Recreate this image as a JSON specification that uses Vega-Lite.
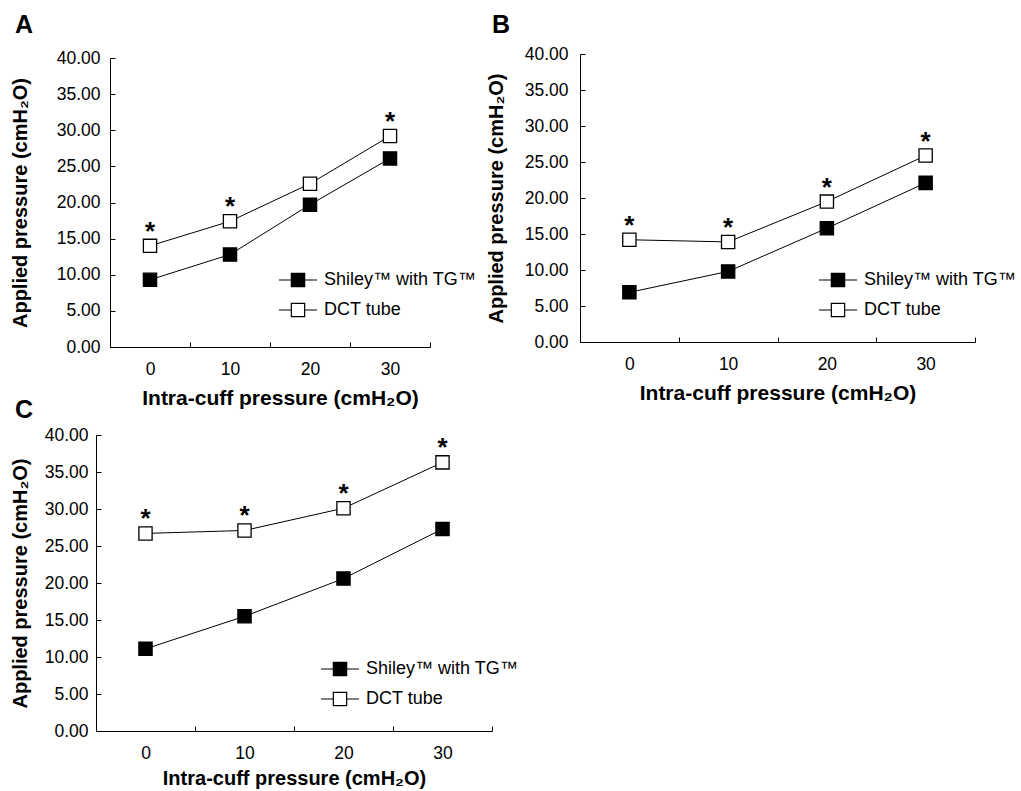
{
  "$schema": "https://vega.github.io/schema/vega-lite/v6.json",
  "background": "white",
  "padding": {"left": 10, "top": 13, "right": 2, "bottom": 2},
  "config": {
    "font": "Liberation Sans",
    "view": {"stroke": null},
    "axis": {
      "grid": false,
      "domainColor": "black",
      "domainWidth": 1,
      "tickColor": "black",
      "tickWidth": 1,
      "tickSize": -5,
      "labelColor": "black",
      "labelFont": "Liberation Sans",
      "labelFontSize": 17.5,
      "titleColor": "black",
      "titleFont": "Liberation Sans",
      "titleFontSize": 20,
      "titleFontWeight": "bold"
    },
    "axisX": {"titleFontSize": 21},
    "legend": {
      "labelFont": "Liberation Sans",
      "labelFontSize": 18,
      "labelColor": "black"
    },
    "title": {"font": "Liberation Sans", "fontSize": 25, "fontWeight": "bold", "color": "black", "anchor": "start", "frame": "group"}
  },
  "data": {
    "values": [
      {"panel": "A", "x": "0", "tube": "Shiley™ with TG™", "y": 9.3, "sig": ""},
      {"panel": "A", "x": "10", "tube": "Shiley™ with TG™", "y": 12.8, "sig": ""},
      {"panel": "A", "x": "20", "tube": "Shiley™ with TG™", "y": 19.7, "sig": ""},
      {"panel": "A", "x": "30", "tube": "Shiley™ with TG™", "y": 26.1, "sig": ""},
      {"panel": "A", "x": "0", "tube": "DCT tube", "y": 14.0, "sig": "*"},
      {"panel": "A", "x": "10", "tube": "DCT tube", "y": 17.4, "sig": "*"},
      {"panel": "A", "x": "20", "tube": "DCT tube", "y": 22.6, "sig": ""},
      {"panel": "A", "x": "30", "tube": "DCT tube", "y": 29.2, "sig": "*"},
      {"panel": "B", "x": "0", "tube": "Shiley™ with TG™", "y": 6.9, "sig": ""},
      {"panel": "B", "x": "10", "tube": "Shiley™ with TG™", "y": 9.8, "sig": ""},
      {"panel": "B", "x": "20", "tube": "Shiley™ with TG™", "y": 15.8, "sig": ""},
      {"panel": "B", "x": "30", "tube": "Shiley™ with TG™", "y": 22.1, "sig": ""},
      {"panel": "B", "x": "0", "tube": "DCT tube", "y": 14.2, "sig": "*"},
      {"panel": "B", "x": "10", "tube": "DCT tube", "y": 13.9, "sig": "*"},
      {"panel": "B", "x": "20", "tube": "DCT tube", "y": 19.5, "sig": "*"},
      {"panel": "B", "x": "30", "tube": "DCT tube", "y": 25.9, "sig": "*"},
      {"panel": "C", "x": "0", "tube": "Shiley™ with TG™", "y": 11.1, "sig": ""},
      {"panel": "C", "x": "10", "tube": "Shiley™ with TG™", "y": 15.5, "sig": ""},
      {"panel": "C", "x": "20", "tube": "Shiley™ with TG™", "y": 20.6, "sig": ""},
      {"panel": "C", "x": "30", "tube": "Shiley™ with TG™", "y": 27.3, "sig": ""},
      {"panel": "C", "x": "0", "tube": "DCT tube", "y": 26.7, "sig": "*"},
      {"panel": "C", "x": "10", "tube": "DCT tube", "y": 27.1, "sig": "*"},
      {"panel": "C", "x": "20", "tube": "DCT tube", "y": 30.1, "sig": "*"},
      {"panel": "C", "x": "30", "tube": "DCT tube", "y": 36.3, "sig": "*"}
    ]
  },
  "columns": 2,
  "align": "none",
  "spacing": {"row": -11, "column": -33},
  "concat": [
    {
      "width": 334, "height": 293,
      "title": {"text": "A", "dx": -81, "offset": 11},
      "transform": [{"filter": "datum.panel === 'A'"}],
      "encoding": {
        "x": {"field": "x", "type": "ordinal", "sort": ["0", "10", "20", "30"],
              "scale": {"type": "band", "paddingInner": 0, "paddingOuter": 0, "range": [14, 334]},
              "axis": {"title": "Intra-cuff pressure (cmH₂O)", "labelAngle": 0, "tickBand": "extent", "labelPadding": 18, "titlePadding": 10, "titleX": 184}},
        "y": {"field": "y", "type": "quantitative", "scale": {"domain": [0, 40], "nice": false, "range": [293, 4]},
              "axis": {"title": "Applied pressure (cmH₂O)", "values": [0, 5, 10, 15, 20, 25, 30, 35, 40], "format": ".2f", "offset": -14, "labelPadding": 15, "titlePadding": 26}}
      },
      "layer": [
        {"mark": {"type": "line", "color": "black", "strokeWidth": 1}, "encoding": {"detail": {"field": "tube"}}},
        {"mark": {"type": "point", "shape": "square", "size": 175, "filled": true, "stroke": "black", "strokeWidth": 1.3, "opacity": 1},
         "encoding": {"fill": {"field": "tube", "type": "nominal", "scale": {"domain": ["Shiley™ with TG™", "DCT tube"], "range": ["black", "white"]},
           "legend": {"title": null, "orient": "none", "legendX": 182, "legendY": 206, "padding": 0,
             "symbolType": "M-1,0H-0.35M0.35,0H1M-0.35,-0.35H0.35V0.35H-0.35Z", "symbolSize": 1444,
             "symbolStrokeColor": "black", "symbolStrokeWidth": 1.2, "symbolOpacity": 1, "labelOffset": 6, "rowPadding": -4}}}},
        {"transform": [{"filter": "datum.sig === '*'"}], "mark": {"type": "text", "dy": -6, "baseline": "alphabetic", "fontSize": 26, "fontWeight": "bold", "color": "black"}, "encoding": {"text": {"field": "sig"}}}
      ]
    },
    {
      "width": 395, "height": 288,
      "title": {"text": "B", "dx": -88, "offset": 7},
      "transform": [{"filter": "datum.panel === 'B'"}],
      "encoding": {
        "x": {"field": "x", "type": "ordinal", "sort": ["0", "10", "20", "30"],
              "scale": {"type": "band", "paddingInner": 0, "paddingOuter": 0},
              "axis": {"title": "Intra-cuff pressure (cmH₂O)", "labelAngle": 0, "tickBand": "extent", "labelPadding": 18, "titlePadding": 10}},
        "y": {"field": "y", "type": "quantitative", "scale": {"domain": [0, 40], "nice": false},
              "axis": {"title": "Applied pressure (cmH₂O)", "values": [0, 5, 10, 15, 20, 25, 30, 35, 40], "format": ".2f", "labelPadding": 17, "titlePadding": 18}}
      },
      "layer": [
        {"mark": {"type": "line", "color": "black", "strokeWidth": 1}, "encoding": {"detail": {"field": "tube"}}},
        {"mark": {"type": "point", "shape": "square", "size": 175, "filled": true, "stroke": "black", "strokeWidth": 1.3, "opacity": 1},
         "encoding": {"fill": {"field": "tube", "type": "nominal", "scale": {"domain": ["Shiley™ with TG™", "DCT tube"], "range": ["black", "white"]},
           "legend": {"title": null, "orient": "none", "legendX": 238, "legendY": 206, "padding": 0,
             "symbolType": "M-1,0H-0.35M0.35,0H1M-0.35,-0.35H0.35V0.35H-0.35Z", "symbolSize": 1444,
             "symbolStrokeColor": "black", "symbolStrokeWidth": 1.2, "symbolOpacity": 1, "labelOffset": 6, "rowPadding": -4}}}},
        {"transform": [{"filter": "datum.sig === '*'"}], "mark": {"type": "text", "dy": -6, "baseline": "alphabetic", "fontSize": 26, "fontWeight": "bold", "color": "black"}, "encoding": {"text": {"field": "sig"}}}
      ]
    },
    {
      "width": 396, "height": 296,
      "title": {"text": "C", "dx": -81, "offset": 3},
      "transform": [{"filter": "datum.panel === 'C'"}],
      "encoding": {
        "x": {"field": "x", "type": "ordinal", "sort": ["0", "10", "20", "30"],
              "scale": {"type": "band", "paddingInner": 0, "paddingOuter": 0},
              "axis": {"title": "Intra-cuff pressure (cmH₂O)", "titleFontSize": 20, "labelAngle": 0, "tickBand": "extent", "labelPadding": 18, "titlePadding": 7}},
        "y": {"field": "y", "type": "quantitative", "scale": {"domain": [0, 40], "nice": false},
              "axis": {"title": "Applied pressure (cmH₂O)", "values": [0, 5, 10, 15, 20, 25, 30, 35, 40], "format": ".2f", "labelPadding": 13, "titlePadding": 14}}
      },
      "layer": [
        {"mark": {"type": "line", "color": "black", "strokeWidth": 1}, "encoding": {"detail": {"field": "tube"}}},
        {"mark": {"type": "point", "shape": "square", "size": 175, "filled": true, "stroke": "black", "strokeWidth": 1.3, "opacity": 1},
         "encoding": {"fill": {"field": "tube", "type": "nominal", "scale": {"domain": ["Shiley™ with TG™", "DCT tube"], "range": ["black", "white"]},
           "legend": {"title": null, "orient": "none", "legendX": 224, "legendY": 214, "padding": 0,
             "symbolType": "M-1,0H-0.35M0.35,0H1M-0.35,-0.35H0.35V0.35H-0.35Z", "symbolSize": 1444,
             "symbolStrokeColor": "black", "symbolStrokeWidth": 1.2, "symbolOpacity": 1, "labelOffset": 6, "rowPadding": -4}}}},
        {"transform": [{"filter": "datum.sig === '*'"}], "mark": {"type": "text", "dy": -6, "baseline": "alphabetic", "fontSize": 26, "fontWeight": "bold", "color": "black"}, "encoding": {"text": {"field": "sig"}}}
      ]
    }
  ],
  "resolve": {"scale": {"fill": "independent"}, "legend": {"fill": "independent"}}
}
